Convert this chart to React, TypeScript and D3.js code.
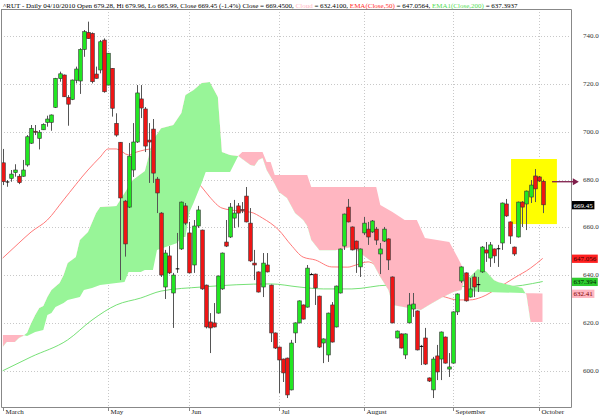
import React, { useRef, useEffect } from 'react';
import * as d3 from 'd3';

// daily bars, first bar = 25 Mar 2010, last bar = 4 Oct 2010
const open = [687.0, 679.2, 680.5, 682.9, 681.4, 681.4, 686.1, 695.2, 700.2, 697.2,
    700.8, 703.9, 703.9, 710.2, 722.2, 723.7, 714.4, 713.5, 721.5, 721.2,
    734.4, 741.5, 741.1, 724.1, 725.8, 738.3, 719.5, 726.5, 703.5, 695.6,
    671.0, 668.5, 684.0, 695.7, 713.7, 709.5, 696.5, 701.1, 680.2, 666.0,
    635.1, 648.1, 632.6, 642.9, 651.0, 669.0, 657.7, 644.3, 660.6, 658.9,
    635.9, 620.5, 620.1, 624.2, 634.3, 653.9, 656.0, 663.9, 669.0, 667.5,
    673.1, 661.8, 645.1, 641.4, 635.1, 644.3, 635.9, 615.9, 610.0, 605.0,
    605.4, 592.1, 615.9, 620.1, 627.6, 626.7, 640.5, 640.5, 631.3, 611.7,
    606.7, 627.6, 618.4, 632.6, 652.2, 668.5, 660.2, 654.3, 643.5, 657.7,
    659.3, 658.1, 659.3, 648.9, 654.3, 655.2, 639.3, 613.8, 615.5, 606.7,
    620.1, 625.9, 625.1, 610.5, 613.8, 597.1, 592.1, 606.3, 605.0, 614.2,
    600.8, 603.3, 624.7, 637.6, 641.0, 630.9, 639.3, 636.3, 641.4, 650.6,
    647.2, 651.0, 651.3, 653.5, 669.8, 662.3, 651.8, 656.0, 670.6, 669.8,
    672.7, 681.5, 681.1, 679.28];
const high = [692.8, 679.8, 684.0, 686.4, 682.3, 688.2, 698.6, 702.8, 702.8, 700.7,
    703.5, 706.7, 707.2, 722.5, 725.1, 723.9, 715.3, 721.8, 727.2, 734.9,
    742.5, 746.0, 741.5, 727.2, 738.3, 739.0, 732.9, 726.6, 707.7, 695.7,
    671.5, 695.3, 703.6, 719.5, 719.5, 710.3, 703.6, 705.3, 681.1, 666.4,
    650.6, 652.2, 641.0, 657.7, 670.8, 670.2, 662.3, 663.1, 669.0, 659.1,
    636.1, 624.2, 628.4, 639.9, 649.5, 663.1, 670.2, 671.5, 670.2, 670.6,
    676.9, 668.1, 650.6, 641.6, 649.3, 649.3, 636.1, 616.1, 610.2, 605.2,
    605.6, 613.0, 620.3, 629.5, 627.8, 644.3, 641.0, 640.7, 631.5, 613.6,
    624.4, 628.8, 635.7, 651.2, 665.8, 671.9, 660.4, 654.5, 651.2, 664.4,
    662.3, 663.1, 660.2, 653.5, 660.2, 655.4, 639.5, 616.9, 615.7, 615.7,
    632.6, 632.6, 625.3, 610.9, 618.0, 597.3, 605.9, 610.9, 616.5, 614.4,
    607.5, 624.9, 632.4, 643.7, 641.2, 638.9, 641.0, 639.3, 652.2, 653.9,
    653.9, 651.2, 652.7, 670.4, 671.9, 662.5, 652.0, 670.8, 671.0, 675.4,
    679.8, 684.4, 681.5, 679.96];
const low = [677.7, 677.0, 679.1, 681.2, 678.1, 681.2, 685.4, 694.9, 698.6, 692.6,
    700.7, 702.1, 700.4, 709.9, 720.9, 714.5, 702.5, 713.2, 720.2, 715.8,
    731.3, 738.8, 720.2, 722.2, 724.4, 716.3, 719.4, 706.3, 697.9, 638.0,
    647.8, 668.1, 681.1, 695.3, 705.7, 691.5, 678.6, 678.6, 666.0, 639.3,
    630.1, 640.5, 618.0, 641.0, 650.6, 661.0, 640.8, 641.0, 659.8, 633.9,
    617.8, 607.5, 618.2, 624.0, 633.9, 651.8, 655.6, 659.8, 660.2, 666.0,
    662.1, 645.6, 638.0, 632.8, 630.9, 641.2, 612.1, 609.2, 590.8, 595.4,
    588.7, 591.9, 611.7, 619.9, 621.5, 626.5, 640.1, 627.6, 609.6, 603.3,
    603.8, 611.9, 618.2, 632.4, 650.6, 662.1, 650.4, 641.0, 639.3, 656.8,
    652.7, 657.7, 652.7, 640.5, 653.9, 642.2, 619.9, 613.6, 609.4, 605.0,
    619.9, 622.6, 608.6, 602.5, 602.5, 595.4, 588.7, 596.2, 596.2, 603.1,
    597.5, 603.1, 623.4, 636.8, 629.0, 630.7, 630.9, 633.0, 641.0, 645.6,
    643.5, 645.1, 643.5, 650.6, 664.4, 653.1, 648.1, 655.8, 660.2, 658.9,
    670.2, 670.6, 679.0, 665.99];
const close = [679.1, 679.2, 682.3, 684.0, 678.7, 684.0, 697.9, 701.4, 699.9, 699.8,
    703.1, 705.3, 707.0, 722.3, 724.2, 714.6, 711.5, 721.6, 726.2, 734.4,
    741.8, 738.9, 720.9, 722.3, 737.6, 716.7, 732.8, 709.8, 698.6, 672.3,
    653.1, 689.8, 695.7, 716.2, 709.9, 694.0, 695.7, 682.7, 674.4, 640.1,
    649.3, 641.0, 640.1, 642.9, 670.6, 661.8, 641.0, 660.6, 667.3, 634.3,
    618.4, 618.0, 618.4, 639.7, 649.3, 652.2, 668.5, 666.0, 666.0, 667.1,
    662.3, 646.0, 644.3, 633.0, 645.1, 641.4, 615.9, 609.6, 604.6, 599.2,
    590.0, 611.7, 620.1, 629.3, 621.7, 643.0, 640.5, 634.7, 610.0, 613.4,
    624.2, 612.1, 635.5, 651.0, 665.6, 662.3, 650.6, 651.0, 651.0, 661.8,
    656.0, 662.7, 654.7, 651.0, 659.3, 646.4, 620.1, 616.7, 609.6, 615.5,
    627.6, 628.0, 608.8, 610.5, 602.9, 595.8, 605.0, 599.6, 616.3, 603.3,
    601.7, 624.7, 632.2, 643.5, 629.3, 634.3, 635.1, 636.3, 651.8, 649.3,
    652.7, 648.1, 651.3, 670.2, 664.8, 656.4, 648.9, 670.6, 668.5, 675.2,
    677.7, 676.1, 679.4, 669.45];

// Ichimoku spans as [bar, value]
const spanA: [number, number][] = [[0, 610.0], [1, 612.1], [3, 612.1], [4, 613.8], [5, 614.6], [6, 616.0],
    [7, 620.0], [8, 623.4], [9, 626.3], [10, 627.2], [11, 630.9], [12, 633.9], [14, 636.8], [15, 640.1],
    [16, 645.1], [18, 647.6], [19, 654.7], [21, 658.1], [23, 666.0], [24, 668.5], [28, 669.0], [32, 679.8],
    [35, 683.6], [37, 696.5], [39, 701.5], [42, 702.8], [44, 707.8], [45, 715.3], [47, 717.4], [49, 720.4],
    [51, 720.8], [53, 714.5], [54, 691.5], [56, 690.3], [58, 689.9], [61, 686.1], [62, 685.7], [63, 688.2],
    [64, 689.0], [65, 684.0], [67, 678.1], [68, 674.8], [70, 672.3], [72, 666.0], [74, 663.1], [75, 660.6],
    [76, 654.7], [78, 650.5], [82, 650.5], [86, 651.8], [89, 648.1], [91, 645.6], [93, 639.3], [95, 633.9],
    [96, 627.6], [100, 626.3], [103, 625.5], [105, 627.6], [108, 630.5], [111, 633.0], [113, 633.9],
    [114, 640.1], [115, 639.3], [117, 642.6], [119, 641.8], [121, 638.0], [122, 637.2], [125, 635.9],
    [128, 634.7], [129, 631.8], [130, 620.5], [133, 620.5]];
const spanB: [number, number][] = [[0, 615.0], [5, 615.0], [6, 614.6], [8, 616.3], [10, 617.1], [11, 623.4],
    [12, 624.2], [13, 626.7], [15, 628.4], [16, 629.7], [19, 630.9], [20, 633.9], [22, 634.7], [24, 635.9],
    [30, 637.2], [31, 641.4], [34, 641.4], [35, 642.2], [37, 642.2], [38, 650.6], [43, 653.5], [44, 656.0],
    [45, 656.0], [46, 666.4], [47, 670.2], [49, 678.6], [50, 683.2], [56, 683.2], [58, 689.9], [59, 691.5],
    [64, 691.5], [65, 687.3], [66, 687.3], [67, 681.9], [75, 681.9], [76, 676.9], [92, 676.9], [93, 669.4],
    [96, 666.4], [99, 663.1], [102, 663.1], [104, 655.6], [110, 653.9], [112, 647.6], [113, 644.3],
    [114, 633.4], [119, 633.0], [128, 632.6], [133, 632.41]];

const ema50: [number, number][] = [[0, 647.2], [4, 653.5], [7, 658.1], [11, 663.1], [15, 671.5], [21, 684.0],
    [24, 689.4], [26, 692.8], [28, 692.8], [31, 690.3], [33, 691.5], [37, 692.8], [41, 688.2], [45, 683.2],
    [49, 676.9], [51, 672.7], [54, 668.1], [58, 666.9], [61, 666.4], [64, 663.9], [68, 658.9], [71, 652.7],
    [74, 647.6], [77, 646.4], [81, 643.5], [85, 643.4], [87, 644.3], [90, 645.6], [93, 643.0], [98, 638.0],
    [103, 633.9], [109, 630.9], [112, 629.7], [115, 629.7], [118, 630.9], [122, 634.7], [126, 638.9],
    [130, 643.0], [133, 647.06]];
const ema200: [number, number][] = [[0, 600.1], [7, 605.9], [16, 613.0], [22, 621.3], [28, 627.6], [34, 630.5],
    [39, 633.4], [49, 635.1], [66, 636.4], [73, 635.1], [79, 634.3], [86, 634.3], [95, 635.9], [110, 635.5],
    [123, 635.1], [133, 637.39]];

const monthNames = ["March", "May", "Jun", "Jul", "August", "September", "October"];
const monthStart = [0, 26, 46, 68, 89, 111, 132];
const priceTicks = [600, 620, 640, 660, 680, 700, 720, 740];

const tagText = ["669.45", "647.056", "637.394", "632.41"];
const tagValue = [669.45, 647.056, 637.394, 632.41];
const tagFill = ["#000000", "#ff2020", "#2ecc2e", "#ffb6c1"];
const tagInk = ["#ffffff", "#300000", "#002000", "#800000"];

const titleParts: [string, string][] = [
    ["^RUT - Daily 04/10/2010 Open 679.28, Hi 679.96, Lo 665.99, Close 669.45 (-1.4%) Close = 669.4500, ", "#000"],
    ["Cloud", "#ffb6c1"], [" = 632.4100, ", "#000"], ["EMA(Close,50)", "#ff2a2a"], [" = 647.0564, ", "#000"],
    ["EMA1(Close,200)", "#55dd55"], [" = 637.3937", "#000"]];

// highlight box and arrow, in bar / price units
const boxBars = [125.2, 136.5];
const boxPrices = [661.4, 688.6];
const arrowBars = [135.3, 141.9];
const arrowPrice = 679.1;

const FONT = "'Liberation Serif', 'Times New Roman', serif";

const IchimokuChart: React.FC = () => {
    const ref = useRef<SVGSVGElement | null>(null);

    useEffect(() => {
        if (!ref.current) return;
        const W = 600, H = 416;
        const left = 1, right = 571, top = 9, bottom = 407;

        const svg = d3.select(ref.current);
        svg.selectAll("*").remove();
        svg.attr("width", W).attr("height", H);

        svg.append("rect").attr("width", W).attr("height", H).attr("fill", "#fff");

        const x = d3.scaleLinear().domain([0, 133]).range([2.7, 542.7]);
        const y = d3.scaleLinear().domain([600, 740]).range([371, 36]);
        const px = (i: number) => Math.round(x(i)) + 0.5;

        // grid
        const grid = svg.append("g").attr("stroke", "#c8c8c8").attr("stroke-dasharray", "1,2");
        grid.selectAll("line.h").data(priceTicks).join("line")
            .attr("x1", left).attr("x2", right)
            .attr("y1", d => Math.round(y(d)) + 0.5).attr("y2", d => Math.round(y(d)) + 0.5);
        grid.selectAll("line.v").data(monthStart.slice(1)).join("line")
            .attr("x1", d => px(d)).attr("x2", d => px(d))
            .attr("y1", top).attr("y2", bottom);

        // highlight box
        svg.append("rect")
            .attr("x", x(boxBars[0])).attr("width", x(boxBars[1]) - x(boxBars[0]))
            .attr("y", y(boxPrices[1])).attr("height", y(boxPrices[0]) - y(boxPrices[1]))
            .attr("fill", "#ffff00");

        // moving averages
        const line = d3.line<[number, number]>()
            .x(d => x(d[0])).y(d => y(d[1]))
            .curve(d3.curveMonotoneX);
        svg.append("path").attr("d", line(ema50)).attr("fill", "none")
            .attr("stroke", "#ff6a6a").attr("stroke-width", 0.9);
        svg.append("path").attr("d", line(ema200)).attr("fill", "none")
            .attr("stroke", "#66dd66").attr("stroke-width", 0.9);

        // cloud: fill between the spans, pink where B is on top, green where A is
        const defs = svg.append("defs");
        const edgeArea = (y0: number) => d3.area<[number, number]>()
            .x(d => x(d[0])).y0(y0).y1(d => y(d[1]));
        defs.append("clipPath").attr("id", "aboveA")
            .append("path").attr("d", edgeArea(0)(spanA));
        defs.append("clipPath").attr("id", "belowA")
            .append("path").attr("d", edgeArea(H)(spanA));
        const ring = [...spanA, ...spanB.slice().reverse()];
        const poly = d3.line<[number, number]>().x(d => x(d[0])).y(d => y(d[1]))(ring) + "Z";
        svg.append("path").attr("d", poly).attr("fill", "#ffb6c1").attr("clip-path", "url(#aboveA)");
        svg.append("path").attr("d", poly).attr("fill", "#98f598").attr("clip-path", "url(#belowA)");

        // candles
        const bars = d3.range(open.length);
        svg.append("g").selectAll("line").data(bars).join("line")
            .attr("x1", i => px(i)).attr("x2", i => px(i))
            .attr("y1", i => y(high[i])).attr("y2", i => y(low[i]))
            .attr("stroke", "#555").attr("stroke-width", 1);
        svg.append("g").selectAll("rect").data(bars).join("rect")
            .attr("x", i => Math.round(x(i)) - 1.3)
            .attr("width", 3.6)
            .attr("y", i => y(Math.max(open[i], close[i])))
            .attr("height", i => Math.max(Math.abs(y(open[i]) - y(close[i])), 1))
            .attr("fill", i => close[i] > open[i] ? "#22e622" : close[i] < open[i] ? "#ee1515" : "#000")
            .attr("stroke", i => close[i] === open[i] ? "none" : "#333")
            .attr("stroke-width", 0.6);

        // frame
        const frame = svg.append("g").attr("stroke", "#888").attr("fill", "none");
        frame.append("path").attr("d", `M${left + 0.5},${top}V${bottom + 0.5}H${right + 0.5}V${top + 0.5}H${left}`);

        // bottom axis
        const xa = svg.append("g").attr("font-family", FONT).attr("font-size", 7).attr("fill", "#222");
        xa.selectAll("line").data(monthStart).join("line")
            .attr("x1", d => px(d)).attr("x2", d => px(d))
            .attr("y1", bottom).attr("y2", bottom + 4).attr("stroke", "#888");
        xa.selectAll("text").data(monthNames).join("text")
            .attr("x", (_, k) => px(monthStart[k]) + 2).attr("y", 414)
            .text(d => d);

        // right axis
        const ya = svg.append("g").attr("font-family", FONT).attr("font-size", 7).attr("fill", "#333");
        ya.selectAll("text").data(priceTicks).join("text")
            .attr("x", 583).attr("y", d => y(d) + 2)
            .text(d => d.toFixed(1));

        // value tags
        const tags = svg.append("g").attr("font-family", FONT).attr("font-size", 7);
        tagText.forEach((t, k) => {
            const cy = y(tagValue[k]);
            tags.append("rect").attr("x", 572).attr("y", cy - 3.8)
                .attr("width", t.length * 3.4 + 2).attr("height", 8.3).attr("fill", tagFill[k]);
            tags.append("text").attr("x", 573.5).attr("y", cy + 2.8)
                .attr("fill", tagInk[k]).text(t);
        });

        // arrow
        const ay = y(arrowPrice);
        svg.append("line").attr("x1", x(arrowBars[0])).attr("x2", x(arrowBars[1]) - 4)
            .attr("y1", ay).attr("y2", ay).attr("stroke", "#7f1d4a").attr("stroke-width", 1.3);
        svg.append("path")
            .attr("d", `M${x(arrowBars[1])},${ay}l-6,-3.5v7z`).attr("fill", "#7f1d4a");

        // title
        const title = svg.append("text").attr("x", 3).attr("y", 7.5)
            .attr("font-family", FONT).attr("font-size", 7).style("white-space", "pre");
        titleParts.forEach(([t, c]) => title.append("tspan").attr("fill", c).text(t));
    }, []);

    return <svg ref={ref} style={{ position: 'absolute', left: 0, top: 0, display: 'block' }} />;
};

export default function App() {
    return <IchimokuChart />;
}
